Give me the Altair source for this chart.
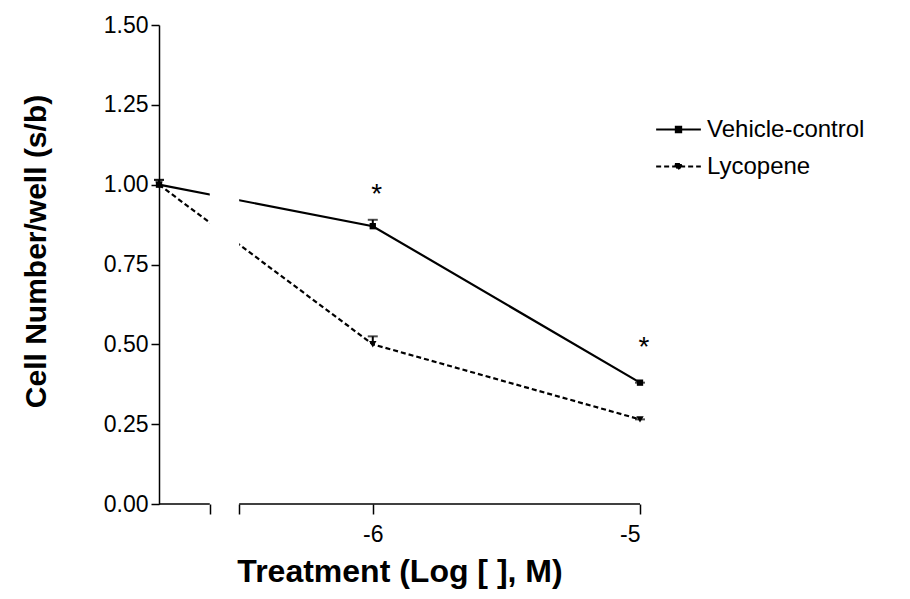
import altair as alt
import pandas as pd

# ---- data ----
series_names = ["Vehicle-control", "Lycopene"]
dose_labels = ["control", "-6", "-5"]
vehicle_mean = [1.00, 0.87, 0.38]
vehicle_upper = [1.015, 0.89, 0.38]
lycopene_mean = [1.00, 0.50, 0.265]
lycopene_upper = [1.015, 0.525, 0.265]
star_doses = ["-6", "-5"]
star_y = [0.99, 0.51]
y_ticks = [0.0, 0.25, 0.5, 0.75, 1.0, 1.25, 1.5]

# broken x axis: control sits left of the break, log doses to the right
CONTROL_POS = -6.8
BREAK_LO, BREAK_HI = -6.61, -6.5
X_MIN, X_MAX = -6.8, -5.0


def xpos(lbl):
    return CONTROL_POS if lbl == "control" else float(lbl)


rows = []
for name, means, ups in [("Vehicle-control", vehicle_mean, vehicle_upper),
                         ("Lycopene", lycopene_mean, lycopene_upper)]:
    for lbl, m, u in zip(dose_labels, means, ups):
        rows.append({"series": name, "x": xpos(lbl), "y": m, "up": u})
df = pd.DataFrame(rows)
stars = pd.DataFrame({"x": [xpos(s) for s in star_doses], "y": star_y, "t": ["*"] * len(star_y)})
segments = pd.DataFrame({"x": [X_MIN, BREAK_HI], "x2": [BREAK_LO, X_MAX]})
gap = pd.DataFrame({"x": [BREAK_LO], "x2": [BREAK_HI]})

FONT = "Liberation Sans"
W, H = 481, 479

xscale = alt.Scale(domain=[X_MIN, X_MAX], nice=False, zero=False)
yscale = alt.Scale(domain=[0, 1.5], nice=False)

xaxis = alt.Axis(
    values=[BREAK_LO, BREAK_HI, -6, -5],
    labelExpr="datum.value == -6 ? '-6' : (datum.value == -5 ? '-5' : '')",
    domain=False, grid=False, tickColor="black", tickWidth=1.5, tickSize=10,
    labelFont=FONT, labelFontSize=23, labelColor="black", labelPadding=9,
    title="Treatment (Log [ ], M)", titleFont=FONT, titleFontSize=32,
    titleFontWeight="bold", titleColor="black", titlePadding=10,
)
yaxis = alt.Axis(
    values=y_ticks, format=".2f", domain=True, domainColor="black", domainWidth=1.5,
    grid=False, tickColor="black", tickWidth=1.5, tickSize=8,
    labelFont=FONT, labelFontSize=23, labelColor="black", labelPadding=3,
    title="Cell Number/well (s/b)", titleFont=FONT, titleFontSize=30,
    titleFontWeight="bold", titleColor="black", titlePadding=52, titleY=226,
)

base = alt.Chart(df)

dash_map = {"Vehicle-control": [1, 0], "Lycopene": [5, 3]}

line_v = base.transform_filter(alt.datum.series == "Vehicle-control").mark_line(
    color="black", strokeWidth=2.2).encode(
    x=alt.X("x:Q", scale=xscale, axis=xaxis), y=alt.Y("y:Q", scale=yscale, axis=yaxis))
line_l = base.transform_filter(alt.datum.series == "Lycopene").mark_line(
    color="black", strokeWidth=2.2, strokeDash=[5, 3]).encode(x="x:Q", y="y:Q")

gap_rect = alt.Chart(gap).mark_rect(color="white").encode(
    x="x:Q", x2="x2:Q", y=alt.datum(0.01), y2=alt.datum(1.5))

axis_segs = alt.Chart(segments).mark_rule(color="black", strokeWidth=1.5).encode(
    x="x:Q", x2="x2:Q", y=alt.datum(0))

err = base.mark_rule(color="black", strokeWidth=2).encode(x="x:Q", y="y:Q", y2="up:Q")
caps = base.mark_tick(color="black", orient="horizontal", size=10, thickness=2).encode(
    x="x:Q", y="up:Q")

pts_v = base.transform_filter(alt.datum.series == "Vehicle-control").mark_point(
    shape="square", filled=True, color="black", size=40, opacity=1).encode(x="x:Q", y="y:Q")
pts_l = base.transform_filter(alt.datum.series == "Lycopene").mark_point(
    shape="triangle-down", filled=True, color="black", size=55, opacity=1).encode(x="x:Q", y="y:Q")

star_txt = alt.Chart(stars).mark_text(
    font=FONT, fontSize=28, color="black", dx=4, dy=7).encode(x="x:Q", y="y:Q", text="t:N")

# legend-only layer (no rows drawn), symbols are line + marker paths
sym_v = "M-2,0H2M-0.24,-0.24H0.24V0.24H-0.24Z"
sym_l = "M-2,0H2M-0.32,-0.22H0.32L0,0.32Z"
legend_layer = base.transform_filter("false").mark_point(
    filled=True, fill="black", stroke="black", strokeWidth=2, opacity=1).encode(
    x="x:Q", y="y:Q",
    shape=alt.Shape("series:N", scale=alt.Scale(domain=series_names, range=[sym_v, sym_l]),
                    legend=alt.Legend(title=None)),
    strokeDash=alt.StrokeDash("series:N", scale=alt.Scale(domain=series_names,
                                                           range=[dash_map[s] for s in series_names]),
                              legend=alt.Legend(title=None)),
)

chart = alt.layer(
    line_v, line_l, gap_rect, axis_segs, err, caps, pts_v, pts_l, star_txt, legend_layer
).properties(
    width=W, height=H,
    autosize=alt.AutoSizeParams(type="none"),
    padding={"left": 151, "top": 17, "right": 262, "bottom": 87},
).configure_view(stroke=None).configure_legend(
    orient="none", legendX=W + 26, legendY=92,
    symbolSize=500, symbolStrokeWidth=2, labelFont=FONT, labelFontSize=24,
    labelColor="black", labelOffset=16, rowPadding=12,
)

chart.save("out.html", embed_options={"renderer": "svg", "actions": False})
